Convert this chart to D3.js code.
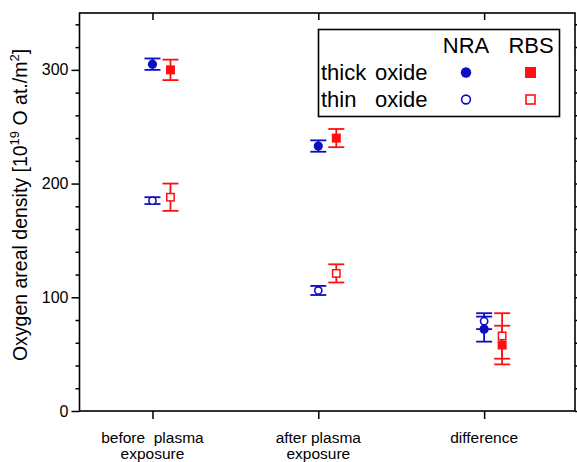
<!DOCTYPE html>
<html>
<head>
<meta charset="utf-8">
<script src="https://cdn.jsdelivr.net/npm/d3@7/dist/d3.min.js"></script>
<style>
  html, body { margin: 0; padding: 0; background: #fff; }
  svg { display: block; font-family: Arial, "Liberation Sans", Helvetica, sans-serif; }
</style>
</head>
<body>
<svg id="chart" width="577" height="462"></svg>
<script>
// Categories along the x axis (each label split over lines)
const categories = ["before plasma exposure", "after plasma exposure", "difference"];
const categoryLines = [["before  plasma", "exposure"], ["after plasma", "exposure"], ["difference"]];

// Oxygen areal density in 10^19 O at./m^2, with uncertainties
const nraThick    = [305, 233, 72];
const nraThickErr = [5, 5, 11];
const rbsThick    = [300, 240, 58];
const rbsThickErr = [9, 8, 17];
const nraThin     = [185, 106, 79];
const nraThinErr  = [3, 4, 7];
const rbsThin     = [188, 121, 66];
const rbsThinErr  = [12, 8, 20];

const yTicks = [0, 100, 200, 300];

const blue = "#0c0cc4";
const red = "#ff1010";

const svg = d3.select("#chart");
const L = 79.5, R = 575, T = 13, B = 411;

const x = d3.scaleLinear().domain([0.56, 3.548]).range([L, R]);
const y = d3.scaleLinear().domain([0, 350]).range([B, T]);
const rbsShift = 18; // RBS points sit to the right of the NRA points

// Axes
const minor = d3.range(0, 351, 20).filter(v => v % 100 !== 0);
const gLeft = svg.append("g").attr("transform", `translate(${L},0)`);
gLeft.call(d3.axisLeft(y).tickValues(yTicks).tickSize(8).tickSizeOuter(0).tickPadding(3));
gLeft.append("g").call(d3.axisLeft(y).tickValues(minor).tickSize(4).tickSizeOuter(0).tickFormat(""));

const gRight = svg.append("g").attr("transform", `translate(${R},0)`);
gRight.call(d3.axisLeft(y).tickValues(yTicks).tickSize(-7).tickSizeOuter(0).tickFormat(""));
gRight.append("g").call(d3.axisLeft(y).tickValues(minor).tickSize(-4).tickSizeOuter(0).tickFormat(""));

const catIdx = [1, 2, 3];
const gBottom = svg.append("g").attr("transform", `translate(0,${B})`);
gBottom.call(d3.axisBottom(x).tickValues(catIdx).tickSize(8).tickSizeOuter(0).tickFormat(""));
const gTop = svg.append("g").attr("transform", `translate(0,${T})`);
gTop.call(d3.axisTop(x).tickValues(catIdx).tickSize(-7).tickSizeOuter(0).tickFormat(""));

svg.selectAll(".domain").remove();
svg.selectAll(".tick line").attr("stroke", "#000").attr("stroke-width", 1.5);
gLeft.selectAll(".tick text").attr("font-size", 16).attr("fill", "#000")
  .attr("font-family", "Arial, 'Liberation Sans', sans-serif");

// Frame
svg.append("rect").attr("x", L).attr("y", T).attr("width", R - L).attr("height", B - T)
  .attr("fill", "none").attr("stroke", "#000").attr("stroke-width", 1.6);

// Category labels
categoryLines.forEach((lines, i) => {
  const t = svg.append("text").attr("x", x(i + 1)).attr("y", 443)
    .attr("text-anchor", "middle").attr("font-size", 15.5).attr("xml:space", "preserve")
    .style("white-space", "pre");
  lines.forEach((ln, j) => {
    t.append("tspan").attr("x", x(i + 1)).attr("dy", j === 0 ? 0 : 15.5).text(ln);
  });
});

// Y axis title
const yt = svg.append("text").attr("transform", `translate(27,205) rotate(-90)`)
  .attr("text-anchor", "middle").attr("font-size", 19.5).attr("fill", "#000");
yt.append("tspan").text("Oxygen areal density [10");
yt.append("tspan").attr("font-size", 13).attr("dy", -8).text("19");
yt.append("tspan").attr("dy", 8).text(" O at./m");
yt.append("tspan").attr("font-size", 13).attr("dy", -8).text("2");
yt.append("tspan").attr("dy", 8).text("]");

// Error bars + markers
const cap = 8;
function errorBars(vals, errs, shift, color) {
  const g = svg.append("g").attr("stroke", color).attr("stroke-width", 1.8).attr("fill", "none");
  vals.forEach((v, i) => {
    const cx = x(i + 1) + shift;
    g.append("line").attr("x1", cx).attr("x2", cx).attr("y1", y(v + errs[i])).attr("y2", y(v - errs[i]));
    [v + errs[i], v - errs[i]].forEach(e => {
      g.append("line").attr("x1", cx - cap).attr("x2", cx + cap).attr("y1", y(e)).attr("y2", y(e));
    });
  });
}
function circles(vals, shift, color, filled) {
  svg.append("g").selectAll("circle").data(vals).join("circle")
    .attr("cx", (d, i) => x(i + 1) + shift).attr("cy", d => y(d))
    .attr("r", filled ? 4.6 : 3.6)
    .attr("fill", filled ? color : "#fff").attr("stroke", color).attr("stroke-width", filled ? 0 : 1.6);
}
function squares(vals, shift, color, filled) {
  const s = filled ? 9 : 7.4;
  svg.append("g").selectAll("rect").data(vals).join("rect")
    .attr("x", (d, i) => x(i + 1) + shift - s / 2).attr("y", d => y(d) - s / 2)
    .attr("width", s).attr("height", s)
    .attr("fill", filled ? color : "#fff").attr("stroke", color).attr("stroke-width", filled ? 0 : 1.5);
}

errorBars(nraThin, nraThinErr, 0, blue);
errorBars(rbsThin, rbsThinErr, rbsShift, red);
errorBars(nraThick, nraThickErr, 0, blue);
errorBars(rbsThick, rbsThickErr, rbsShift, red);
circles(nraThin, 0, blue, false);
squares(rbsThin, rbsShift, red, false);
circles(nraThick, 0, blue, true);
squares(rbsThick, rbsShift, red, true);

// Legend
const lg = svg.append("g").attr("font-size", 22);
lg.append("rect").attr("x", 318.5).attr("y", 29.5).attr("width", 241).attr("height", 87)
  .attr("fill", "#fff").attr("stroke", "#000").attr("stroke-width", 1.6);
lg.append("text").attr("x", 466).attr("y", 53).attr("text-anchor", "middle").text("NRA");
lg.append("text").attr("x", 531).attr("y", 53).attr("text-anchor", "middle").text("RBS");
lg.append("text").attr("x", 321).attr("y", 80).text("thick");
lg.append("text").attr("x", 375).attr("y", 80).text("oxide");
lg.append("text").attr("x", 321).attr("y", 107).text("thin");
lg.append("text").attr("x", 375).attr("y", 107).text("oxide");
lg.append("circle").attr("cx", 466).attr("cy", 72.5).attr("r", 5.2).attr("fill", blue);
lg.append("circle").attr("cx", 466).attr("cy", 99.5).attr("r", 4.4).attr("fill", "#fff").attr("stroke", blue).attr("stroke-width", 1.6);
lg.append("rect").attr("x", 525).attr("y", 67).attr("width", 11).attr("height", 11).attr("fill", red);
lg.append("rect").attr("x", 526).attr("y", 95).attr("width", 9).attr("height", 9).attr("fill", "#fff").attr("stroke", red).attr("stroke-width", 1.6);
</script>
</body>
</html>
